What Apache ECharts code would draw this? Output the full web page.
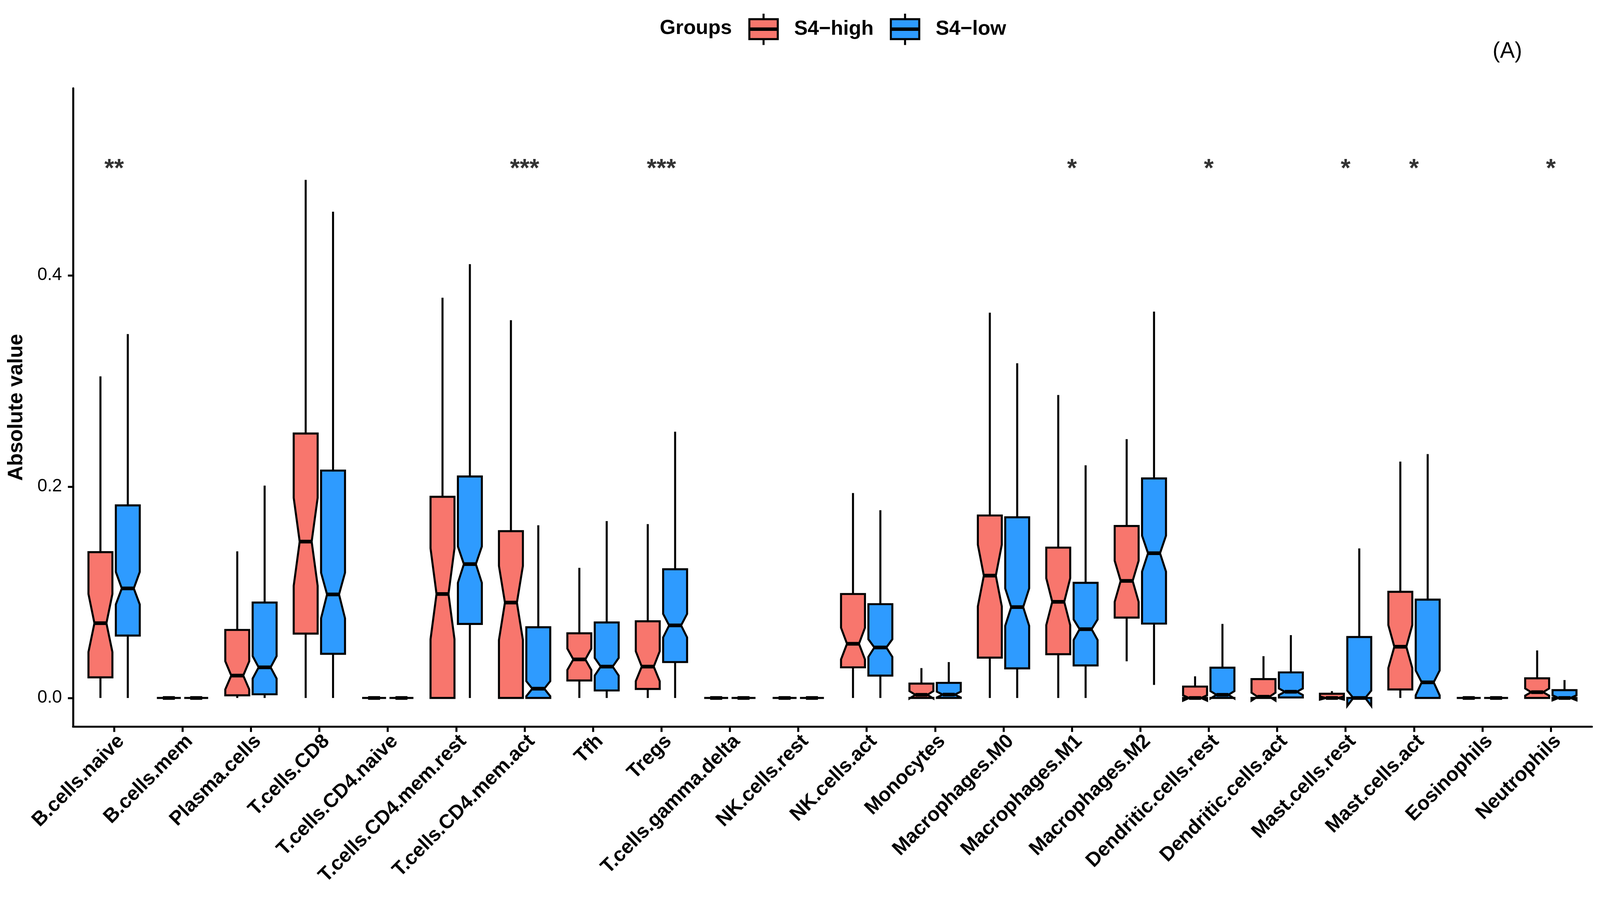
<!DOCTYPE html>
<html>
<head>
<meta charset="utf-8">
<script src="https://cdn.jsdelivr.net/npm/echarts@6/dist/echarts.min.js"></script>
<style>html,body{margin:0;padding:0;background:#fff;overflow:hidden}#c{width:100vw;height:100vh}</style>
</head>
<body>
<div id="c"></div>
<script>
const categories = ['B.cells.naive','B.cells.mem','Plasma.cells','T.cells.CD8','T.cells.CD4.naive','T.cells.CD4.mem.rest','T.cells.CD4.mem.act','Tfh','Tregs','T.cells.gamma.delta','NK.cells.rest','NK.cells.act','Monocytes','Macrophages.M0','Macrophages.M1','Macrophages.M2','Dendritic.cells.rest','Dendritic.cells.act','Mast.cells.rest','Mast.cells.act','Eosinophils','Neutrophils'];
const groupNames = ['S4\u2212high', 'S4\u2212low'];

// S4-high box statistics
const highMin     = [0,0,0,0,0,0,0,0,0,0,0,0,0,0,0,0.0347,0,0,0,0,0,0];
const highQ1      = [0.0195,0,0.0025,0.0609,0,0,0,0.0166,0.0085,0,0,0.029,0,0.0382,0.0414,0.0761,0,0,0,0.0081,0,0];
const highNotchLo = [0.0435,0,0.0081,0.1062,0,0.0556,0.0549,0.0265,0.0159,0,0,0.0365,-0.0005,0.0867,0.069,0.091,-0.0025,-0.0025,-0.0015,0.0283,0,0.0022];
const highMedian  = [0.0708,0,0.0212,0.148,0,0.0984,0.0903,0.0365,0.0297,0,0,0.0513,0.003,0.1158,0.091,0.1108,0,0.0012,0,0.0485,0,0.0055];
const highNotchHi = [0.0984,0,0.0347,0.1894,0,0.1416,0.125,0.0467,0.0442,0,0,0.0665,0.0065,0.1451,0.1133,0.1299,0.0025,0.005,0.0015,0.069,0,0.009];
const highQ3      = [0.138,0,0.0644,0.2503,0,0.1904,0.1579,0.0612,0.0726,0,0,0.0984,0.0136,0.1727,0.1423,0.1628,0.0108,0.0179,0.004,0.1005,0,0.0186];
const highMax     = [0.3044,0,0.1388,0.4903,0,0.3788,0.3575,0.1232,0.1646,0,0,0.194,0.0283,0.3646,0.2867,0.245,0.0205,0.0396,0.0065,0.2237,0,0.045];

// S4-low box statistics
const lowMin     = [0,0,0,0,0,0,0,0,0,0,0,0,0,0,0,0.0124,0,0,0,0,0,0];
const lowQ1      = [0.0591,0,0.0035,0.0418,0,0.0701,0,0.0071,0.034,0,0,0.0212,0,0.028,0.0308,0.0704,0,0.0005,0,0,0,0];
const lowNotchLo = [0.0885,0,0.0184,0.0754,0,0.109,0.0017,0.0212,0.0573,0,0,0.0389,0.0005,0.0683,0.0549,0.1196,-0.0005,0.0028,-0.0075,0.0025,0,-0.0022];
const lowMedian  = [0.1037,0,0.029,0.098,0,0.1267,0.0088,0.0297,0.0687,0,0,0.0478,0.0032,0.086,0.0651,0.137,0.003,0.0059,0,0.0148,0,0];
const lowNotchHi = [0.1193,0,0.0396,0.1186,0,0.1434,0.0159,0.0379,0.0796,0,0,0.0556,0.006,0.1037,0.0743,0.1536,0.0065,0.009,0.007,0.026,0,0.0025];
const lowQ3      = [0.1823,0,0.0903,0.2152,0,0.2096,0.0669,0.0715,0.1218,0,0,0.0888,0.0143,0.171,0.109,0.2078,0.0287,0.0242,0.0577,0.0931,0,0.0074];
const lowMax     = [0.3444,0,0.201,0.4602,0,0.4106,0.1635,0.1674,0.252,0,0,0.1777,0.034,0.3168,0.2202,0.3657,0.0701,0.0595,0.1416,0.2308,0,0.017];

// significance labels
const sigCategories = [0, 6, 8, 14, 16, 18, 19, 21];
const sigLabels = ['**', '***', '***', '*', '*', '*', '*', '*'];
const sigY = 0.5;

const yTicks = [0, 0.2, 0.4];

const RED = '#F8766D';
const BLUE = '#2E9BFF';
const FONT = 'Liberation Sans';
const BOX_WIDTH = 0.35;
const DODGE = 0.2;

const el = document.getElementById('c');
const sxF = el.clientWidth / 4336;
const syF = el.clientHeight / 2340;
const sx = (v) => v * sxF;
const sy = (v) => v * syF;
const LW = sx(5.5);
const MED_LW = sx(10);

function buildData(mn, q1, nlo, med, nhi, q3, mx) {
  return categories.map((_, i) => [i, mn[i], q1[i], nlo[i], med[i], nhi[i], q3[i], mx[i]]);
}

function renderBox(offset, fill) {
  return function (params, api) {
    const c = api.value(0) + offset;
    const hw = api.size([BOX_WIDTH, 0])[0] / 2;
    const P = (v) => api.coord([c, v]);
    const pMin = P(api.value(1)), pQ1 = P(api.value(2)), pNlo = P(api.value(3)),
          pMed = P(api.value(4)), pNhi = P(api.value(5)), pQ3 = P(api.value(6)), pMax = P(api.value(7));
    const x = pMed[0], xl = x - hw, xr = x + hw, nw = hw * 0.5;
    const stroke = { stroke: '#000', lineWidth: LW, lineCap: 'butt' };
    return {
      type: 'group',
      children: [
        { type: 'line', shape: { x1: x, y1: pQ3[1], x2: x, y2: pMax[1] }, style: stroke },
        { type: 'line', shape: { x1: x, y1: pQ1[1], x2: x, y2: pMin[1] }, style: stroke },
        {
          type: 'polygon',
          shape: { points: [
            [xl, pQ1[1]], [xl, pNlo[1]], [xl + nw, pMed[1]], [xl, pNhi[1]], [xl, pQ3[1]],
            [xr, pQ3[1]], [xr, pNhi[1]], [xr - nw, pMed[1]], [xr, pNlo[1]], [xr, pQ1[1]]
          ] },
          style: { fill: fill, stroke: '#000', lineWidth: LW, lineJoin: 'miter' }
        },
        { type: 'line', shape: { x1: xl + nw, y1: pMed[1], x2: xr - nw, y2: pMed[1] },
          style: { stroke: '#000', lineWidth: MED_LW, lineCap: 'butt' } }
      ]
    };
  };
}

const legendIcon = 'path://M0,15L77,15L77,69L0,69Z M38.5,0L38.5,15 M38.5,69L38.5,85 M0,40L77,40L77,44L0,44Z';
const legendItemH = sx(85);

const chart = echarts.init(el, null, { renderer: 'canvas' });
chart.setOption({
  animation: false,
  backgroundColor: '#fff',
  title: [
    { text: 'Groups', left: sx(1788), top: sy(72.5) - sx(27.5), padding: 0,
      textStyle: { fontFamily: FONT, fontSize: sx(55), fontWeight: 'bold', color: '#000', lineHeight: sx(55) } },
    { text: '(A)', left: sx(4045), top: sy(132) - sx(30), padding: 0,
      textStyle: { fontFamily: FONT, fontSize: sx(60), fontWeight: 'normal', color: '#000', lineHeight: sx(60) } }
  ],
  legend: {
    left: sx(2028), top: sy(72.5) - legendItemH / 2, padding: 0,
    itemWidth: sx(77), itemHeight: legendItemH, itemGap: sx(44),
    selectedMode: false,
    textStyle: { fontFamily: FONT, fontSize: sx(55), fontWeight: 'bold', color: '#000', padding: [0, 0, 0, sx(39)] },
    data: [
      { name: groupNames[0], icon: legendIcon, itemStyle: { color: RED, borderColor: '#000', borderWidth: LW } },
      { name: groupNames[1], icon: legendIcon, itemStyle: { color: BLUE, borderColor: '#000', borderWidth: LW } }
    ]
  },
  grid: { left: sx(198), right: sx(22), top: sy(226), bottom: sy(480), containLabel: false, outerBoundsMode: 'none' },
  xAxis: {
    type: 'value', min: -0.6, max: 21.6,
    splitLine: { show: false },
    axisLine: { show: true, onZero: false, lineStyle: { color: '#000', width: LW } },
    axisTick: { show: true, length: sy(14), lineStyle: { color: '#000', width: LW }, customValues: categories.map((_, i) => i) },
    axisLabel: {
      customValues: categories.map((_, i) => i),
      formatter: (v) => categories[Math.round(v)],
      rotate: 45, align: 'right', verticalAlign: 'top', margin: sy(12),
      fontFamily: FONT, fontSize: sx(54), fontWeight: 'bold', color: '#000'
    }
  },
  yAxis: {
    type: 'value', min: -0.027, max: 0.577,
    name: 'Absolute value', nameLocation: 'middle', nameGap: sx(125),
    nameTextStyle: { fontFamily: FONT, fontSize: sx(56), fontWeight: 'bold', color: '#000' },
    splitLine: { show: false },
    axisLine: { show: true, onZero: false, lineStyle: { color: '#000', width: LW } },
    axisTick: { show: true, length: sx(14), lineStyle: { color: '#000', width: LW }, customValues: yTicks },
    axisLabel: {
      customValues: yTicks,
      formatter: (v) => v.toFixed(1),
      margin: sx(30), fontFamily: FONT, fontSize: sx(48), color: '#000'
    }
  },
  series: [
    {
      name: groupNames[0], type: 'custom',
      itemStyle: { color: RED },
      renderItem: renderBox(-DODGE, RED),
      encode: { x: 0, y: [1, 2, 3, 4, 5, 6, 7] },
      data: buildData(highMin, highQ1, highNotchLo, highMedian, highNotchHi, highQ3, highMax)
    },
    {
      name: groupNames[1], type: 'custom',
      itemStyle: { color: BLUE },
      renderItem: renderBox(DODGE, BLUE),
      encode: { x: 0, y: [1, 2, 3, 4, 5, 6, 7] },
      data: buildData(lowMin, lowQ1, lowNotchLo, lowMedian, lowNotchHi, lowQ3, lowMax)
    },
    {
      name: 'significance', type: 'scatter',
      symbolSize: 0, silent: true,
      data: sigCategories.map((c, i) => [c, sigY, sigLabels[i]]),
      label: {
        show: true, position: 'inside', formatter: (p) => p.value[2],
        fontFamily: FONT, fontSize: sx(68), fontWeight: 'bold', color: '#000', verticalAlign: 'middle', align: 'center'
      }
    }
  ]
});
window.addEventListener('resize', () => chart.resize());
</script>
</body>
</html>
